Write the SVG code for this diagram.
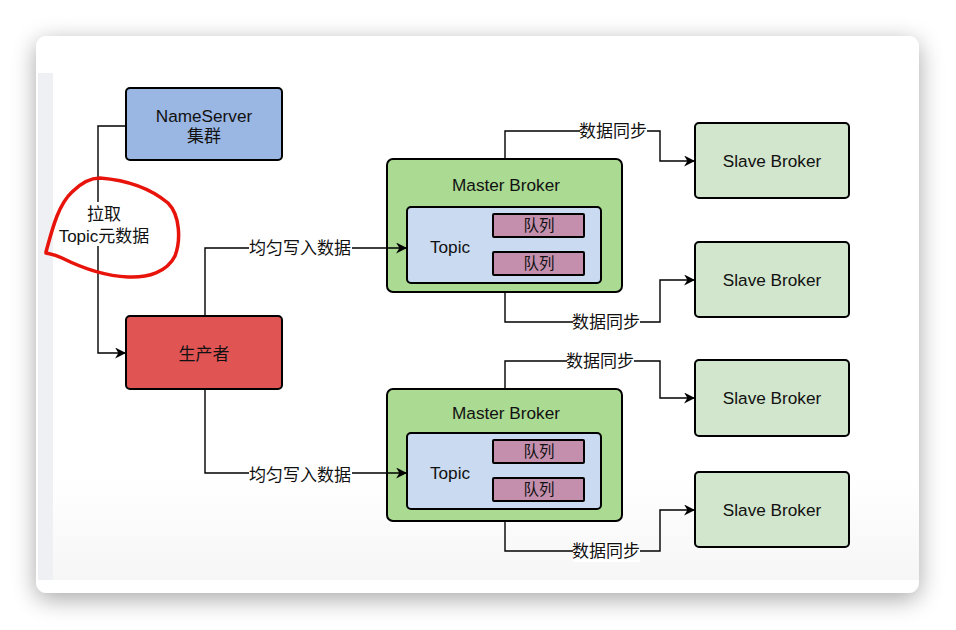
<svg xmlns="http://www.w3.org/2000/svg" width="956" height="630" viewBox="0 0 956 630">
<defs>
<filter id="sh" x="-10%" y="-10%" width="120%" height="125%">
<feGaussianBlur in="SourceAlpha" stdDeviation="12"/>
<feOffset dy="6"/>
<feComponentTransfer><feFuncA type="linear" slope="0.35"/></feComponentTransfer>
<feMerge><feMergeNode/><feMergeNode in="SourceGraphic"/></feMerge>
</filter>
<linearGradient id="bg" x1="0" y1="0" x2="0" y2="1">
<stop offset="0.8" stop-color="#ffffff"/>
<stop offset="1" stop-color="#f6f6f6"/>
</linearGradient>
<marker id="arr" viewBox="0 0 10 10" refX="9" refY="5" markerWidth="11" markerHeight="11" markerUnits="userSpaceOnUse" orient="auto">
<path d="M0,0 L10,5 L0,10 L3,5 z" fill="#000"/>
</marker>
</defs>
<style>
.box{stroke:#000;stroke-width:2}
.t{font-family:"Liberation Sans","Noto Sans CJK SC",sans-serif;font-size:17.2px;fill:#111;text-anchor:middle}
.q{font-size:15.5px}
.k{font-size:17px}
.c{fill:none;stroke:#000;stroke-width:1.4}
.lb{fill:#fff}
</style>
<rect width="956" height="630" fill="#fff"/>
<rect x="36" y="36" width="883" height="557" rx="11" fill="#fff" filter="url(#sh)"/>
<rect x="53" y="73" width="866" height="507" fill="url(#bg)"/>
<rect x="38" y="73" width="15" height="507" fill="#eef0f4"/>

<g id="nameserver">
<rect class="box" x="126" y="88" width="156" height="72" rx="4" fill="#9ab6e3"/>
<text class="t" x="204" y="122">NameServer</text>
<text class="t k" x="204" y="142">集群</text>
</g>

<g id="producer">
<rect class="box" x="126" y="316" width="156" height="73" rx="4" fill="#e05454"/>
<text class="t k" x="204" y="360">生产者</text>
</g>

<g id="master1">
<rect class="box" x="387" y="159" width="235" height="133" rx="6" fill="#abda92"/>
<text class="t" x="506" y="191">Master Broker</text>
<rect class="box" x="407" y="207" width="194" height="76" rx="4" fill="#cadaf0"/>
<text class="t" x="450" y="253">Topic</text>
<rect class="box" x="493" y="214" width="91" height="23" rx="1" fill="#c48fad"/>
<text class="t q" x="539" y="231">队列</text>
<rect class="box" x="493" y="252" width="91" height="23" rx="1" fill="#c48fad"/>
<text class="t q" x="539" y="269">队列</text>
</g>

<g id="master2">
<rect class="box" x="387" y="389" width="235" height="132" rx="6" fill="#abda92"/>
<text class="t" x="506" y="419">Master Broker</text>
<rect class="box" x="407" y="433" width="194" height="76" rx="4" fill="#cadaf0"/>
<text class="t" x="450" y="479">Topic</text>
<rect class="box" x="493" y="440" width="91" height="23" rx="1" fill="#c48fad"/>
<text class="t q" x="539" y="457">队列</text>
<rect class="box" x="493" y="478" width="91" height="23" rx="1" fill="#c48fad"/>
<text class="t q" x="539" y="495">队列</text>
</g>

<g id="slave1">
<rect class="box" x="695" y="123" width="154" height="75" rx="4" fill="#d1e6cd"/>
<text class="t" x="772" y="167">Slave Broker</text>
</g>
<g id="slave2">
<rect class="box" x="695" y="242" width="154" height="75" rx="4" fill="#d1e6cd"/>
<text class="t" x="772" y="286">Slave Broker</text>
</g>
<g id="slave3">
<rect class="box" x="695" y="360" width="154" height="76" rx="4" fill="#d1e6cd"/>
<text class="t" x="772" y="404">Slave Broker</text>
</g>
<g id="slave4">
<rect class="box" x="695" y="472" width="154" height="75" rx="4" fill="#d1e6cd"/>
<text class="t" x="772" y="516">Slave Broker</text>
</g>

<g id="connectors">
<path class="c" d="M125,126 H98 V353 H125" marker-end="url(#arr)"/>
<rect class="lb" x="55" y="202" width="98" height="44"/>
<path class="c" d="M205,316 V248 H406" marker-end="url(#arr)"/>
<rect class="lb" x="249" y="238" width="103" height="20"/>
<path class="c" d="M205,389 V473 H406" marker-end="url(#arr)"/>
<rect class="lb" x="249" y="464" width="103" height="20"/>
<path class="c" d="M505,158 V131 H660 V161 H694" marker-end="url(#arr)"/>
<rect class="lb" x="580" y="122" width="67" height="20"/>
<path class="c" d="M505,292 V322 H660 V280 H694" marker-end="url(#arr)"/>
<rect class="lb" x="573" y="313" width="67" height="20"/>
<path class="c" d="M505,388 V361 H660 V398 H694" marker-end="url(#arr)"/>
<rect class="lb" x="567" y="352" width="67" height="20"/>
<path class="c" d="M505,521 V551 H660 V510 H694" marker-end="url(#arr)"/>
<rect class="lb" x="573" y="542" width="67" height="20"/>
<text class="t k" x="104" y="220">拉取</text>
<text class="t k" x="104" y="242">Topic元数据</text>
<text class="t k" x="300" y="254">均匀写入数据</text>
<text class="t k" x="300" y="481">均匀写入数据</text>
<text class="t k" x="613" y="137">数据同步</text>
<text class="t k" x="606" y="328">数据同步</text>
<text class="t k" x="600" y="367">数据同步</text>
<text class="t k" x="606" y="557">数据同步</text>
</g>

<path d="M46,252 C52,230 58,205 72,192 C82,182 90,178 100,178 C125,180 150,188 168,203 C180,215 181,240 175,256 C167,272 148,278 128,277 C105,276 80,267 62,258 C56,255 50,254 46,253" fill="none" stroke="#e8140c" stroke-width="3.5" stroke-linecap="round"/>
</svg>
